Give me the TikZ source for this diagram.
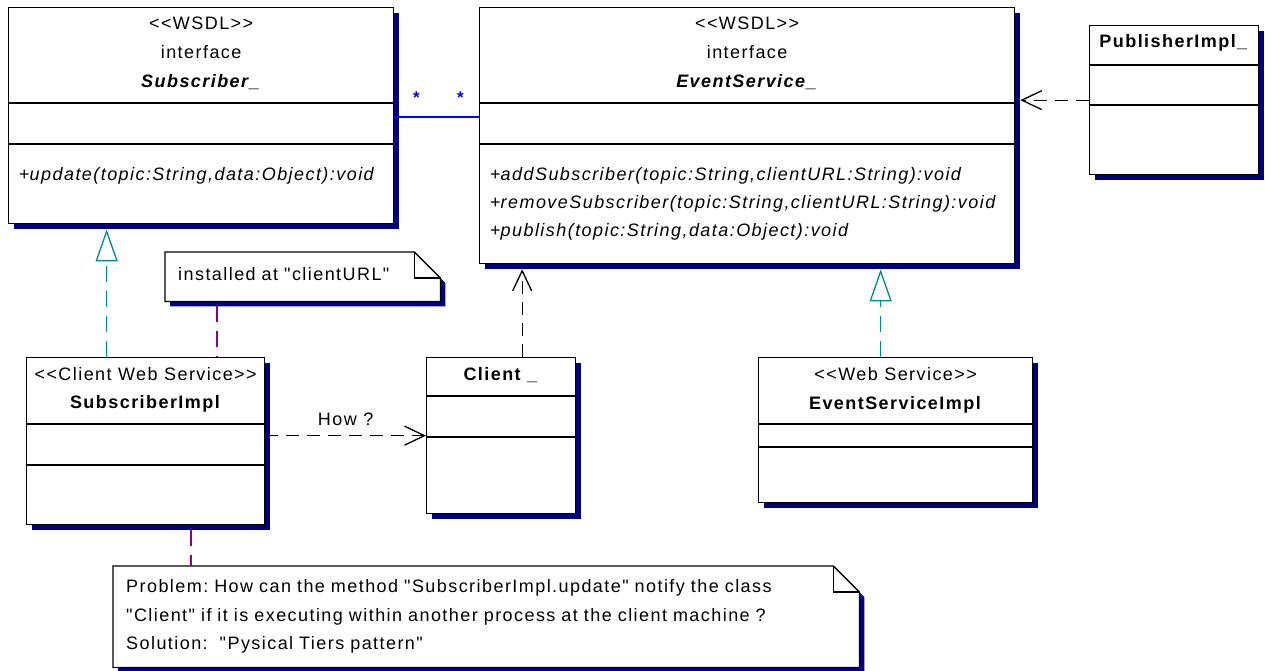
\documentclass[tikz,border=0pt]{standalone}
\usepackage{fontspec}
\setmainfont{Liberation Sans}[LetterSpace=8, Ligatures=TeXOff]
\usepackage{tikz}
\usetikzlibrary{arrows.meta,positioning,shadows,backgrounds,calc}
\definecolor{shadenavy}{RGB}{0,0,128}
\definecolor{realteal}{RGB}{0,140,140}
\definecolor{notelink}{RGB}{140,0,140}
\definecolor{assocblue}{RGB}{0,0,255}
\frenchspacing

\begin{document}
\begin{tikzpicture}[x=1pt, y=-1pt,
  every node/.style={font=\fontsize{18}{28.5}\selectfont},
  cls/.style={draw, fill=white, line width=1.3pt, anchor=north west, inner sep=0pt,
    drop shadow={shadow xshift=5pt, shadow yshift=-5pt, opacity=1, fill=shadenavy}},
  sep/.style={line width=1.3pt},
  txt/.style={inner sep=0pt, anchor=base},
  optxt/.style={inner sep=0pt, anchor=base west},
  notebox/.style={fill=white, anchor=north west, inner xsep=13pt, inner ysep=0pt, align=left},
  noteline/.style={line width=1.3pt},
  dep/.style={line width=1.3pt, dash pattern=on 13pt off 8pt, -{Straight Barb[length=20pt,width=19pt]}},
  real/.style={line width=1.3pt, realteal, dash pattern=on 16pt off 9pt, -{Triangle[length=32pt,width=22pt,fill=white]}},
  anchorlink/.style={line width=1.3pt, notelink, dash pattern=on 16pt off 9pt},
  assoc/.style={line width=1.3pt, assocblue},
  mult/.style={assocblue, font=\fontsize{17}{17}\selectfont\bfseries, inner sep=0pt},
  lbl/.style={inner sep=0pt}
]
\useasboundingbox (0,0) rectangle (1265,670);

% classes
\node[cls, minimum width=385pt, minimum height=216pt] (sub) at (8,7) {};
\node[cls, minimum width=535pt, minimum height=256pt] (evs) at (479,7) {};
\node[cls, minimum width=169pt, minimum height=149pt] (pub) at (1089,25) {};
\node[cls, minimum width=238pt, minimum height=167pt] (simpl) at (26,357) {};
\node[cls, minimum width=149pt, minimum height=156pt] (client) at (426,357) {};
\node[cls, minimum width=274pt, minimum height=145pt] (esi) at (758,357) {};

\foreach \n/\a/\b in {sub/103/144, evs/103/144, pub/65/105, simpl/424/465, client/396/437, esi/424/447} {
  \draw[sep] (\n.west |- 0,\a) -- (\n.east |- 0,\a);
  \draw[sep] (\n.west |- 0,\b) -- (\n.east |- 0,\b);
}

\node[txt] (sub-st) at (sub.north |- 0,29) {<<WSDL>>};
\node[txt] (sub-kw) at (sub.north |- 0,58) {interface};
\node[txt] (sub-nm) at (sub.north |- 0,87) {\textbf{\textit{Subscriber\_}}};
\node[optxt] (sub-op) at (19,180) {+\textit{update(topic:String,data:Object):void}};

\node[txt] (evs-st) at (evs.north |- 0,29) {<<WSDL>>};
\node[txt] (evs-kw) at (evs.north |- 0,58) {interface};
\node[txt] (evs-nm) at (evs.north |- 0,87) {\textbf{\textit{EventService\_}}};
\node[optxt] (evs-op1) at (490,180) {+\textit{addSubscriber(topic:String,clientURL:String):void}};
\node[optxt] (evs-op2) at (490,208) {+\textit{removeSubscriber(topic:String,clientURL:String):void}};
\node[optxt] (evs-op3) at (490,236) {+\textit{publish(topic:String,data:Object):void}};

\node[txt] (pub-nm) at (pub.north |- 0,47) {\textbf{PublisherImpl\_}};

\node[txt] (simpl-st) at (simpl.north |- 0,380) {<<Client Web Service>>};
\node[txt] (simpl-nm) at (simpl.north |- 0,408) {\textbf{SubscriberImpl}};

\node[txt] (client-nm) at (client.north |- 0,380) {\textbf{Client \_}};

\node[txt] (esi-st) at (esi.north |- 0,380) {<<Web Service>>};
\node[txt] (esi-nm) at (esi.north |- 0,409) {\textbf{EventServiceImpl}};

% notes
\node[notebox, text width=249pt, text depth=5pt, minimum height=49pt] (inst) at (165,252) {installed at "clientURL"};
\node[notebox, text width=720pt, minimum height=101pt] (prob) at (113,566)
  {Problem: How can the method "SubscriberImpl.update" notify the class\\
   "Client" if it is executing within another process at the client machine ?\\
   Solution: \ "Pysical Tiers pattern"};

\foreach \n in {inst, prob} {
  \draw[noteline] (\n.north west) -- ([xshift=-26pt]\n.north east) -- ([yshift=-26pt]\n.north east)
    -- (\n.south east) -- (\n.south west) -- cycle;
  \draw[noteline] ([xshift=-26pt]\n.north east) -- ([xshift=-26pt,yshift=-26pt]\n.north east)
    -- ([yshift=-26pt]\n.north east);
  \begin{scope}[on background layer]
    \fill[shadenavy] ([xshift=5pt,yshift=-31pt]\n.north east) -- ([xshift=5pt,yshift=-5pt]\n.south east)
      -- ([xshift=5pt,yshift=-5pt]\n.south west) -- ([xshift=5pt,yshift=-5pt]\n.north west)
      -- ([xshift=-21pt,yshift=-5pt]\n.north east) -- cycle;
  \end{scope}
}

% connectors
\draw[assoc] (sub.east |- 0,117) -- (evs.west |- 0,117)
  node[mult, pos=0.26, above=13pt] (m1) {*}
  node[mult, pos=0.78, above=13pt] (m2) {*};
\draw[dep] (pub.west) -- ($(pub.west -| evs.east)+(5,0)$);
\draw[dep] ($(client.north)+(21,0)$) -- ($(client.north |- evs.south)+(21,5)$);
\draw[dep] (simpl.east |- client.west) -- node[lbl, above=9pt] (how) {How ?} (client.west);
\draw[real] ($(simpl.north)+(-39,0)$) -- ($(simpl.north |- sub.south)+(-39,5)$);
\draw[real] ($(esi.north)+(-15,0)$) -- ($(esi.north |- evs.south)+(-15,5)$);
\draw[anchorlink] ($(inst.south west)+(52,5)$) -- ($(inst.south west |- simpl.north)+(52,0)$);
\draw[anchorlink] ($(simpl.south west)+(165,5)$) -- ($(simpl.south west |- prob.north)+(165,0)$);

\end{tikzpicture}
\end{document}
